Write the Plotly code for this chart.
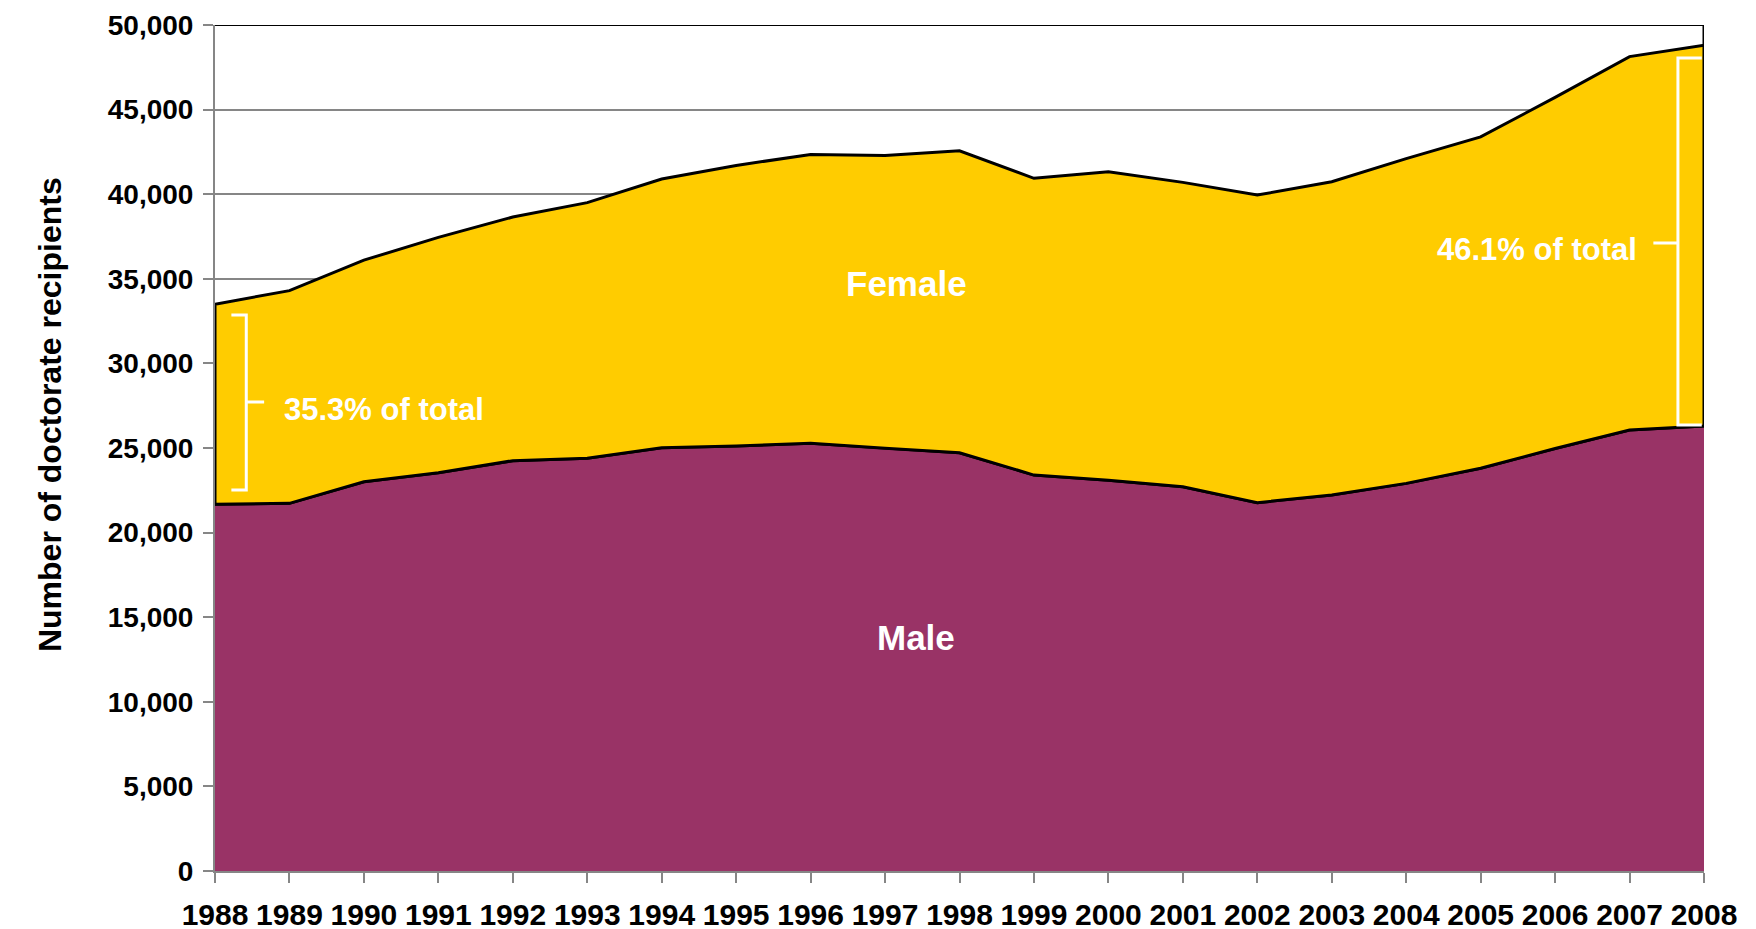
import plotly.graph_objects as go

years = list(range(1988, 2009))
male = [21680, 21730, 23000, 23540, 24250, 24390, 25020, 25120, 25280, 24980, 24720,
        23400, 23100, 22710, 21770, 22220, 22910, 23800, 24970, 26060, 26300]
female = [11820, 12570, 13100, 13910, 14400, 15110, 15880, 16580, 17070, 17300, 17850,
          17540, 18230, 17990, 18180, 18520, 19190, 19590, 20750, 22070, 22500]
y_ticks = [0, 5000, 10000, 15000, 20000, 25000, 30000, 35000, 40000, 45000, 50000]

total = [m + f for m, f in zip(male, female)]

MALE_C = "#993366"
FEM_C = "#FFCC00"
FONT = "Liberation Sans, Arial, sans-serif"

fig = go.Figure()

# Male area
fig.add_trace(go.Scatter(
    x=years, y=male, mode="lines", fill="tozeroy",
    fillcolor=MALE_C, line=dict(color="black", width=3),
    hoverinfo="skip", showlegend=False))

# Female area as outlined polygon (top = total, bottom = male)
fig.add_trace(go.Scatter(
    x=years + years[::-1] + [years[0]],
    y=total + male[::-1] + [total[0]],
    mode="lines", fill="toself", fillcolor=FEM_C,
    line=dict(color="black", width=3),
    hoverinfo="skip", showlegend=False))

shapes = [
    # top border
    dict(type="line", xref="x", yref="y", x0=years[0], x1=years[-1],
         y0=y_ticks[-1], y1=y_ticks[-1], line=dict(color="black", width=2), layer="above"),
    # right edge from top down to total
    dict(type="line", xref="x", yref="y", x0=years[-1], x1=years[-1],
         y0=y_ticks[-1], y1=total[-1], line=dict(color="black", width=3), layer="above"),
]

# Brackets (white)
def bracket(x_end, x_v, x_tip, y_top, y_bot, y_tip):
    path = (f"M {x_end},{y_top} L {x_v},{y_top} L {x_v},{y_bot} L {x_end},{y_bot} "
            f"M {x_v},{y_tip} L {x_tip},{y_tip}")
    return dict(type="path", xref="x", yref="y", path=path,
                line=dict(color="white", width=3), layer="above")

shapes.append(bracket(1988.22, 1988.42, 1988.66, 32860, 22520, 27720))
shapes.append(bracket(2007.97, 2007.65, 2007.32, 48050, 26360, 37120))

annotations = [
    dict(text="Female", x=1997.29, y=34750, xref="x", yref="y", showarrow=False,
         font=dict(family=FONT, size=35, color="white", weight="bold")),
    dict(text="Male", x=1997.41, y=13830, xref="x", yref="y", showarrow=False,
         font=dict(family=FONT, size=35, color="white", weight="bold")),
    dict(text="35.3% of total", x=1988.9, y=27300, xref="x", yref="y", showarrow=False,
         xanchor="left", font=dict(family=FONT, size=31, color="white", weight="bold")),
    dict(text="46.1% of total", x=2007.13, y=36760, xref="x", yref="y", showarrow=False,
         xanchor="right", font=dict(family=FONT, size=31, color="white", weight="bold")),
    dict(text="Number of doctorate recipients", x=-0.1242, y=0.539, xref="paper", yref="paper",
         showarrow=False, textangle=-90,
         font=dict(family=FONT, size=32, color="black", weight="bold")),
]

fig.update_layout(
    width=1756, height=929,
    margin=dict(l=207, r=60, t=17, b=66, autoexpand=False),
    paper_bgcolor="white", plot_bgcolor="white",
    shapes=shapes, annotations=annotations,
    showlegend=False,
)

fig.update_xaxes(
    range=[years[0], years[-1]], tickmode="array", tickvals=years,
    ticktext=[str(y) for y in years],
    showgrid=False, zeroline=False, automargin=False,
    showline=True, linecolor="#868686", linewidth=2,
    ticks="outside", ticklen=10, tickwidth=2, tickcolor="#868686",
    ticklabelstandoff=6,
    tickfont=dict(family=FONT, size=30, color="black", weight="bold"),
)

fig.update_yaxes(
    range=[0, y_ticks[-1]], tickmode="array", tickvals=y_ticks,
    ticktext=[f"{v:,}" for v in y_ticks],
    showgrid=True, gridcolor="#868686", gridwidth=2, zeroline=False, automargin=False,
    showline=True, linecolor="#868686", linewidth=2,
    ticks="outside", ticklen=10, tickwidth=2, tickcolor="#868686",
    ticklabelstandoff=4,
    tickfont=dict(family=FONT, size=28, color="black", weight="bold"),
)

fig.write_html("out.html")
